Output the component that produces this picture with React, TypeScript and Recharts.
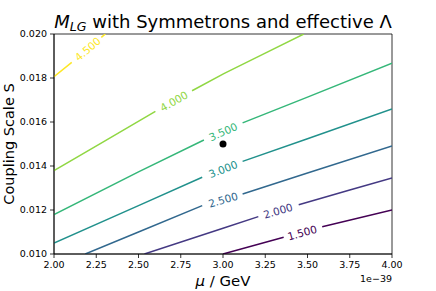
import React from 'react'
import { ComposedChart, Line, XAxis, YAxis, ReferenceArea } from 'recharts'

const xTicks = [2.0, 2.25, 2.5, 2.75, 3.0, 3.25, 3.5, 3.75, 4.0]
const yTicks = [0.01, 0.012, 0.014, 0.016, 0.018, 0.02]

const levels = [1.5, 2.0, 2.5, 3.0, 3.5, 4.0, 4.5]
const levelColors = ['#440154', '#443983', '#31688e', '#21918c', '#35b779', '#90d743', '#fde725']

// contour points [mu, S]; null = gap left for the inline label
const c15 = [[3.0, 0.01], [3.359, 0.01076], null, [3.587, 0.01124], [4.0, 0.012]]
const c20 = [[2.535, 0.01], [3.0, 0.01117], [3.209, 0.0117], null, [3.448, 0.01224], [3.75, 0.01291], [4.0, 0.01346]]
const c25 = [[2.185, 0.01], [2.5, 0.011], [2.877, 0.0122], null, [3.116, 0.01273], [3.5, 0.01368], [4.0, 0.01491]]
const c30 = [[2.0, 0.0105], [2.5, 0.0122], [2.877, 0.01349], null, [3.116, 0.01421], [3.5, 0.01524], [4.0, 0.01659]]
const c35 = [[2.0, 0.01179], [2.5, 0.01373], [2.887, 0.01518], null, [3.116, 0.01596], [3.5, 0.01713], [4.0, 0.01867]]
const c40 = [[2.0, 0.01379], [2.274, 0.01502], [2.6, 0.01648], null, [2.817, 0.01742], [3.005, 0.0182], [3.25, 0.01913], [3.478, 0.02]]
const c45 = [[2.0, 0.01806], [2.105, 0.01871], null, [2.28, 0.01985], [2.304, 0.02]]
const contours = [c15, c20, c25, c30, c35, c40, c45]

// label centres [mu, S]
const labelPos = [[3.468, 0.01097], [3.325, 0.01197], [3.0, 0.01247], [3.0, 0.01386], [3.0, 0.01556], [2.709, 0.01695], [2.199, 0.01932]]

const marker = [[3.0, 0.015]]

const W = 436
const H = 291
const M = { top: 34, right: 44, left: 0, bottom: 0 }
const Y_W = 54
const X_H = 37
const PX_MU = (W - Y_W - M.right) / 2
const PX_S = (H - M.top - X_H) / 0.01
const font = 'DejaVu Sans'

const toRows = (pts: (number[] | null)[]) =>
  pts.map((p, i) => (p ? { mu: p[0], s: p[1] } : { mu: (pts[i - 1] as number[])[0], s: null }))

const labelAngle = (pts: (number[] | null)[]) => {
  const g = pts.indexOf(null)
  const a = pts[g - 1] as number[]
  const b = pts[g + 1] as number[]
  return (-Math.atan2((b[1] - a[1]) * PX_S, (b[0] - a[0]) * PX_MU) * 180) / Math.PI
}

const labelRows = labelPos.map((p, i) => ({
  mu: p[0],
  s: p[1],
  text: levels[i].toFixed(3),
  color: levelColors[i],
  angle: labelAngle(contours[i]),
}))

const ContourLabel = (props: any) => {
  const { cx, cy, payload, index } = props
  if (cx == null || cy == null) return <g key={index} />
  return (
    <text
      key={index}
      x={cx}
      y={cy}
      fill={payload.color}
      fontSize={10.5}
      fontFamily={font}
      textAnchor="middle"
      dominantBaseline="central"
      transform={`rotate(${payload.angle} ${cx} ${cy})`}
    >
      {payload.text}
    </text>
  )
}

const tickStyle = { fontSize: 9.5, fill: '#000', fontFamily: font }

export default function App() {
  return (
    <div style={{ position: 'absolute', left: 0, top: 0, width: W, height: H, background: '#fff' }}>
      <ComposedChart width={W} height={H} margin={M}>
        <XAxis
          dataKey="mu"
          type="number"
          domain={[2, 4]}
          ticks={xTicks}
          allowDataOverflow
          height={X_H}
          tick={tickStyle}
          tickFormatter={(v) => v.toFixed(2)}
          tickSize={4}
          tickMargin={3}
          axisLine={{ stroke: '#000', strokeWidth: 0.8 }}
          tickLine={{ stroke: '#000', strokeWidth: 0.8 }}
        />
        <YAxis
          dataKey="s"
          type="number"
          domain={[0.01, 0.02]}
          ticks={yTicks}
          allowDataOverflow
          width={Y_W}
          tick={tickStyle}
          tickFormatter={(v) => v.toFixed(3)}
          tickSize={4}
          tickMargin={3}
          axisLine={{ stroke: '#000', strokeWidth: 0.8 }}
          tickLine={{ stroke: '#000', strokeWidth: 0.8 }}
        />
        <ReferenceArea x1={2} x2={4} y1={0.01} y2={0.02} fill="none" stroke="#000" strokeWidth={0.8} />
        {contours.map((c, i) => (
          <Line
            key={levels[i]}
            data={toRows(c)}
            dataKey="s"
            type="linear"
            stroke={levelColors[i]}
            strokeWidth={1.5}
            dot={false}
            activeDot={false}
            isAnimationActive={false}
          />
        ))}
        <Line
          data={labelRows}
          dataKey="s"
          stroke="none"
          dot={ContourLabel}
          activeDot={false}
          isAnimationActive={false}
        />
        <Line
          data={marker.map((p) => ({ mu: p[0], s: p[1] }))}
          dataKey="s"
          stroke="none"
          dot={{ r: 3.5, fill: '#000', stroke: 'none' }}
          activeDot={false}
          isAnimationActive={false}
        />
      </ComposedChart>
      <svg width={W} height={H} style={{ position: 'absolute', left: 0, top: 0, pointerEvents: 'none' }}>
        <text x={223} y={27.5} textAnchor="middle" fontSize={18} fontFamily={font} style={{ whiteSpace: 'pre' }}>
          <tspan fontStyle="italic">M</tspan>
          <tspan fontStyle="italic" fontSize={12.6} dy={3.8}>LG</tspan>
          <tspan dy={-3.8}> with Symmetrons and effective Λ</tspan>
        </text>
        <text x={223} y={286} textAnchor="middle" fontSize={14.9} fontFamily={font} style={{ whiteSpace: 'pre' }}>
          <tspan fontStyle="italic">μ</tspan>
          <tspan> / GeV</tspan>
        </text>
        <text
          x={14}
          y={144}
          textAnchor="middle"
          fontSize={14.5}
          fontFamily={font}
          transform="rotate(-90 14 144)"
        >
          Coupling Scale S
        </text>
        <text x={392} y={281.5} textAnchor="end" fontSize={9.5} fontFamily={font}>
          1e−39
        </text>
      </svg>
    </div>
  )
}
